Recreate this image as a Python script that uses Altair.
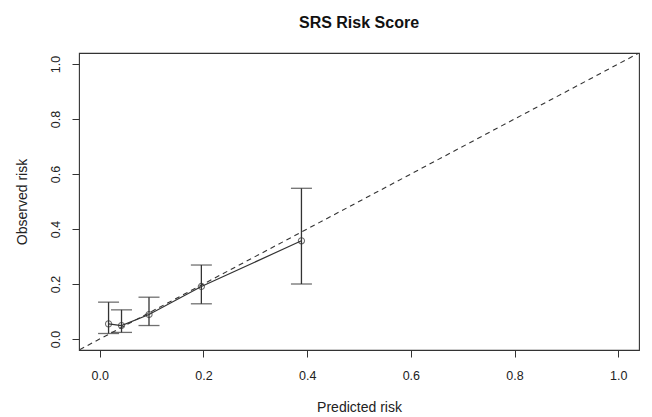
import altair as alt
import pandas as pd

predicted = [0.017, 0.042, 0.095, 0.196, 0.389]
observed = [0.055, 0.049, 0.089, 0.191, 0.357]
lower = [0.020, 0.024, 0.049, 0.128, 0.200]
upper = [0.134, 0.106, 0.152, 0.269, 0.548]
diag = [-0.1, 1.1]
ticks = [0.0, 0.2, 0.4, 0.6, 0.8, 1.0]

df = pd.DataFrame({"pred": predicted, "obs": observed, "lo": lower, "hi": upper})
ddf = pd.DataFrame({"x": diag, "y": diag})

C = "#333333"
FONT = "Liberation Sans"
dom = [-0.04, 1.04]

xs = alt.Scale(domain=dom, nice=False, zero=False)
ys = alt.Scale(domain=dom, nice=False, zero=False)

xax = alt.Axis(values=ticks, format=".1f", title="Predicted risk", tickSize=7,
               labelPadding=12, titlePadding=19, domain=False, grid=False)
yax = alt.Axis(values=ticks, format=".1f", title="Observed risk", tickSize=7,
               labelAngle=270, labelAlign="center", labelBaseline="bottom",
               labelPadding=10, titlePadding=20, domain=False, grid=False)

base = alt.Chart(df)

diag_line = alt.Chart(ddf).mark_line(color=C, strokeDash=[5, 4], strokeWidth=1.1, clip=True).encode(
    x=alt.X("x:Q", scale=xs, axis=xax), y=alt.Y("y:Q", scale=ys, axis=yax))

line = base.mark_line(color=C, strokeWidth=1.2).encode(
    x=alt.X("pred:Q", scale=xs), y=alt.Y("obs:Q", scale=ys))

bars = base.mark_rule(color=C, strokeWidth=1.3).encode(
    x="pred:Q", y="lo:Q", y2="hi:Q")

cap_lo = base.mark_tick(color=C, orient="horizontal", size=21, thickness=1.3).encode(
    x="pred:Q", y="lo:Q")
cap_hi = base.mark_tick(color=C, orient="horizontal", size=21, thickness=1.3).encode(
    x="pred:Q", y="hi:Q")

pts = base.mark_point(shape="circle", size=38, color=C, strokeWidth=1.1, filled=False).encode(
    x="pred:Q", y="obs:Q")

chart = alt.layer(diag_line, line, bars, cap_lo, cap_hi, pts).properties(
    width=560, height=297,
    title=alt.TitleParams("SRS Risk Score", fontSize=16, fontWeight="bold", font=FONT,
                          color="#111", anchor="middle", offset=22),
    autosize=alt.AutoSizeParams(type="none"),
    padding={"left": 71, "top": 45, "right": 5, "bottom": 70},
).configure_axis(
    labelFont=FONT, titleFont=FONT, labelFontSize=12.5, titleFontSize=14,
    labelColor="#222", titleColor="#222", tickColor=C, titleFontWeight="normal",
).configure_view(stroke=C, strokeWidth=1.1)

chart.save("out.html", embed_options={"renderer": "svg", "actions": False})
